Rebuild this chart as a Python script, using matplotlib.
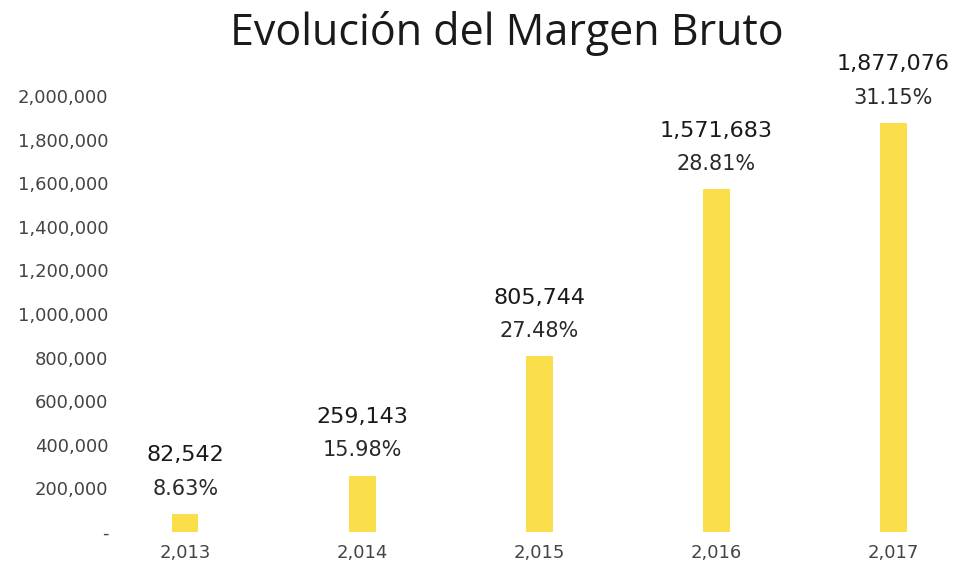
import numpy as np
import matplotlib.pyplot as plt
from matplotlib.ticker import FuncFormatter

plt.rcParams['font.family'] = ['DejaVu Sans']

# datos
anios = [2013, 2014, 2015, 2016, 2017]
margen = [82542, 259143, 805744, 1571683, 1877076]
porcentaje = [8.63, 15.98, 27.48, 28.81, 31.15]

fig = plt.figure(figsize=(9.58, 5.71), dpi=100)
ax = fig.add_axes([125 / 958, 39 / 571, 825 / 958, 436 / 571])

x = np.arange(len(anios))
ax.bar(x, margen, width=0.15, color='#FADF4B')

ax.set_xlim(-0.34, 4.32)
ax.set_ylim(0, 2000000)
ax.set_yticks(np.arange(0, 2000001, 200000))
ax.yaxis.set_major_formatter(FuncFormatter(lambda v, p: '-' if v == 0 else f'{int(v):,}'))
ax.set_xticks(x)
ax.set_xticklabels([f'{a:,}' for a in anios])
ax.tick_params(length=0, labelsize=13, colors='#444444')
ax.tick_params(axis='y', pad=12)
ax.tick_params(axis='x', pad=9)
for s in ax.spines.values():
    s.set_visible(False)

# etiquetas encima de las barras
for i in range(len(anios)):
    ax.annotate(f'{porcentaje[i]:.2f}%', (x[i], margen[i]), xytext=(0, 11),
                textcoords='offset points', ha='center', va='bottom',
                fontsize=15, color='#2a2a2a')
    ax.annotate(f'{margen[i]:,}', (x[i], margen[i]), xytext=(0, 35),
                textcoords='offset points', ha='center', va='bottom',
                fontsize=16, color='#1a1a1a')

fig.text(0.529, 0.942, 'Evolución del Margen Bruto', ha='center', va='center',
         fontsize=31, color='#1a1a1a', family='Open Sans')

plt.savefig('out.png', dpi=100)
